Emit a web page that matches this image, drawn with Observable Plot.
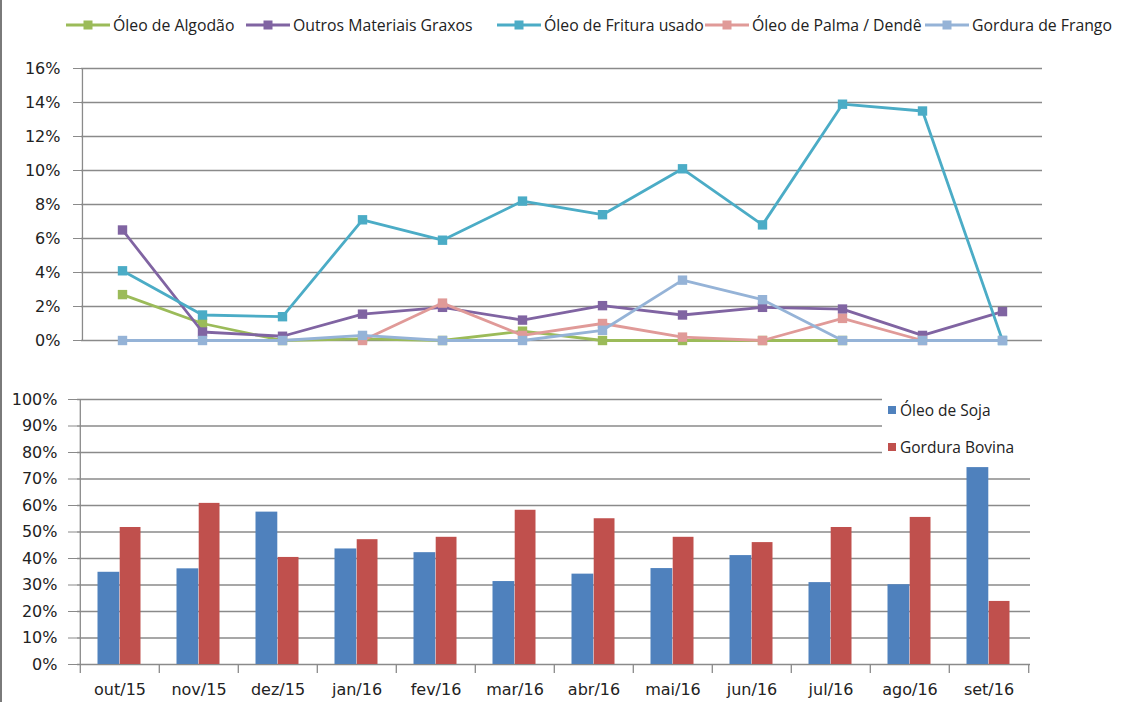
<!DOCTYPE html>
<html><head><meta charset="utf-8">
<script src="https://cdn.jsdelivr.net/npm/d3@7"></script>
<script src="https://cdn.jsdelivr.net/npm/@observablehq/plot@0.6"></script>
<style>
body{margin:0;background:#fff;}
#wrap{position:relative;width:1124px;height:702px;overflow:hidden;background:#fff;}
#border{position:absolute;left:0;top:0;width:2px;height:702px;background:#7a7a7a;}
#top{position:absolute;left:0;top:40px;}
#bottom{position:absolute;left:0;top:380px;}
.leg{position:absolute;top:15px;height:20px;display:flex;align-items:center;font:15.8px "Open Sans";color:#222;white-space:nowrap;}
.leg svg{margin-right:3px;}
#blegend{position:absolute;left:882px;top:394px;width:150px;height:66px;background:#fff;font:15.5px "Open Sans";color:#222;}
.bitem{position:absolute;left:6px;display:flex;align-items:center;height:20px;}
.bitem span.sw{display:inline-block;width:8px;height:8px;margin-right:4px;}
</style></head>
<body><div id="wrap"><div id="border"></div><div id="legend"></div><div id="top"></div><div id="bottom"></div><div id="blegend"></div></div>
<script>
const months = ["out/15","nov/15","dez/15","jan/16","fev/16","mar/16","abr/16","mai/16","jun/16","jul/16","ago/16","set/16"];
const lineNames = ["Óleo de Algodão","Outros Materiais Graxos","Óleo de Fritura usado","Óleo de Palma / Dendê","Gordura de Frango"];
const lineColors = ["#9BBB59","#8064A2","#4BACC6","#E09A98","#95B3D7"];
const algodao = [2.7,1.0,0,0.1,0,0.55,0,0,0,0,null,null];
const outros  = [6.5,0.5,0.25,1.55,1.95,1.2,2.05,1.5,1.95,1.85,0.3,1.7];
const fritura = [4.1,1.5,1.4,7.1,5.9,8.2,7.4,10.1,6.8,13.9,13.5,0];
const palma   = [null,null,null,0,2.2,0.3,1.0,0.2,0,1.3,0,null];
const frango  = [0,0,0,0.3,0,0,0.6,3.55,2.4,0,0,0];
const topTicks = [0,2,4,6,8,10,12,14,16];

const barNames = ["Óleo de Soja","Gordura Bovina"];
const barColors = ["#4F81BD","#C0504D"];
const soja   = [34.8,36.1,57.5,43.6,42.2,31.3,34.1,36.2,41.1,30.9,30.1,74.3];
const bovina = [51.7,60.8,40.4,47.1,48.0,58.2,55.0,48.0,46.0,51.7,55.5,23.8];
const botTicks = [0,10,20,30,40,50,60,70,80,90,100];

const grid = "#8a8a8a";
const lineSeries = [algodao,outros,fritura,palma,frango];

// top legend
const legLefts = [66,246,497,705,925];
const legend = document.getElementById("legend");
lineNames.forEach((n,i)=>{
  const d = document.createElement("div");
  d.className="leg"; d.style.left = legLefts[i]+"px";
  d.innerHTML = `<svg width="44" height="12"><line x1="0" x2="44" y1="6" y2="6" stroke="${lineColors[i]}" stroke-width="3"/><rect x="17.5" y="1.5" width="9" height="9" fill="${lineColors[i]}"/></svg>${n}`;
  legend.appendChild(d);
});

// top chart
const W = 1124;
const tL = 81, tR = 82;
const step = (W - tL - tR) / months.length;
const topMarks = [
  Plot.ruleY(topTicks, {stroke: grid, strokeWidth: 1.3}),
  Plot.ruleX([months[0]], {dx: -step/2, y1: 0, y2: 16, stroke: grid, strokeWidth: 1.3}),
  Plot.axisY({ticks: topTicks, tickFormat: d => d + "%", tickSize: 8, tickPadding: 13, stroke: grid, fill: "#222", fontSize: 16, label: null})
];
lineSeries.forEach((vals,i)=>{
  const data = months.map((m,j)=>({month:m, value: vals[j]})).filter(d=>d.value!=null);
  topMarks.push(Plot.line(data, {x:"month", y:"value", stroke: lineColors[i], strokeWidth: 2.8}));
  topMarks.push(Plot.dot(data, {x:"month", y:"value", fill: lineColors[i], symbol:"square", r: 5.3}));
});
const topChart = Plot.plot({
  width: W, height: 320, marginTop: 28, marginBottom: 20, marginLeft: tL, marginRight: tR,
  style: {fontFamily: "DejaVu Sans", fontSize: "16px", background: "transparent"},
  x: {type: "point", domain: months, padding: 0.5, axis: null},
  y: {domain: [0, 16], label: null},
  marks: topMarks
});
document.getElementById("top").appendChild(topChart);

// bottom chart
const bL = 77, bR = 94;
const bw = (W - bL - bR) / months.length;
const sojaData = months.map((m,j)=>({month:m, value: soja[j]}));
const bovData = months.map((m,j)=>({month:m, value: bovina[j]}));
const frameH = 322 - 19 - 38;
const botChart = Plot.plot({
  width: W, height: 322, marginTop: 19, marginBottom: 38, marginLeft: bL, marginRight: bR,
  style: {fontFamily: "DejaVu Sans", fontSize: "16px", background: "transparent"},
  x: {type: "band", domain: months, padding: 0, label: null},
  y: {domain: [0, 100], label: null},
  marks: [
    Plot.ruleY(botTicks, {stroke: grid, strokeWidth: 1.3}),
    Plot.ruleX([months[0]], {dx: -bw/2, y1: 0, y2: 100, stroke: grid, strokeWidth: 1.3}),
    Plot.ruleX(months, {x: d => d, dx: -bw/2, insetTop: frameH, insetBottom: -9, stroke: grid, strokeWidth: 1.3}),
    Plot.ruleX([months[months.length-1]], {dx: bw/2, insetTop: frameH, insetBottom: -9, stroke: grid, strokeWidth: 1.3}),
    Plot.barY(sojaData, {x: "month", y: "value", fill: barColors[0], insetLeft: 17.5, insetRight: bw/2}),
    Plot.barY(bovData, {x: "month", y: "value", fill: barColors[1], insetLeft: bw/2, insetRight: 18.5}),
    Plot.axisY({ticks: botTicks, tickFormat: d => d + "%", tickSize: 9, tickPadding: 11, stroke: grid, fill: "#222", fontSize: 16, label: null}),
    Plot.axisX({tickSize: 0, tickPadding: 19, fill: "#222", fontSize: 16, label: null})
  ]
});
document.getElementById("bottom").appendChild(botChart);

// bottom legend
const bl = document.getElementById("blegend");
barNames.forEach((n,i)=>{
  const d = document.createElement("div");
  d.className = "bitem"; d.style.top = (6 + i*37) + "px";
  d.innerHTML = `<span class="sw" style="background:${barColors[i]}"></span>${n}`;
  bl.appendChild(d);
});
</script></body></html>
